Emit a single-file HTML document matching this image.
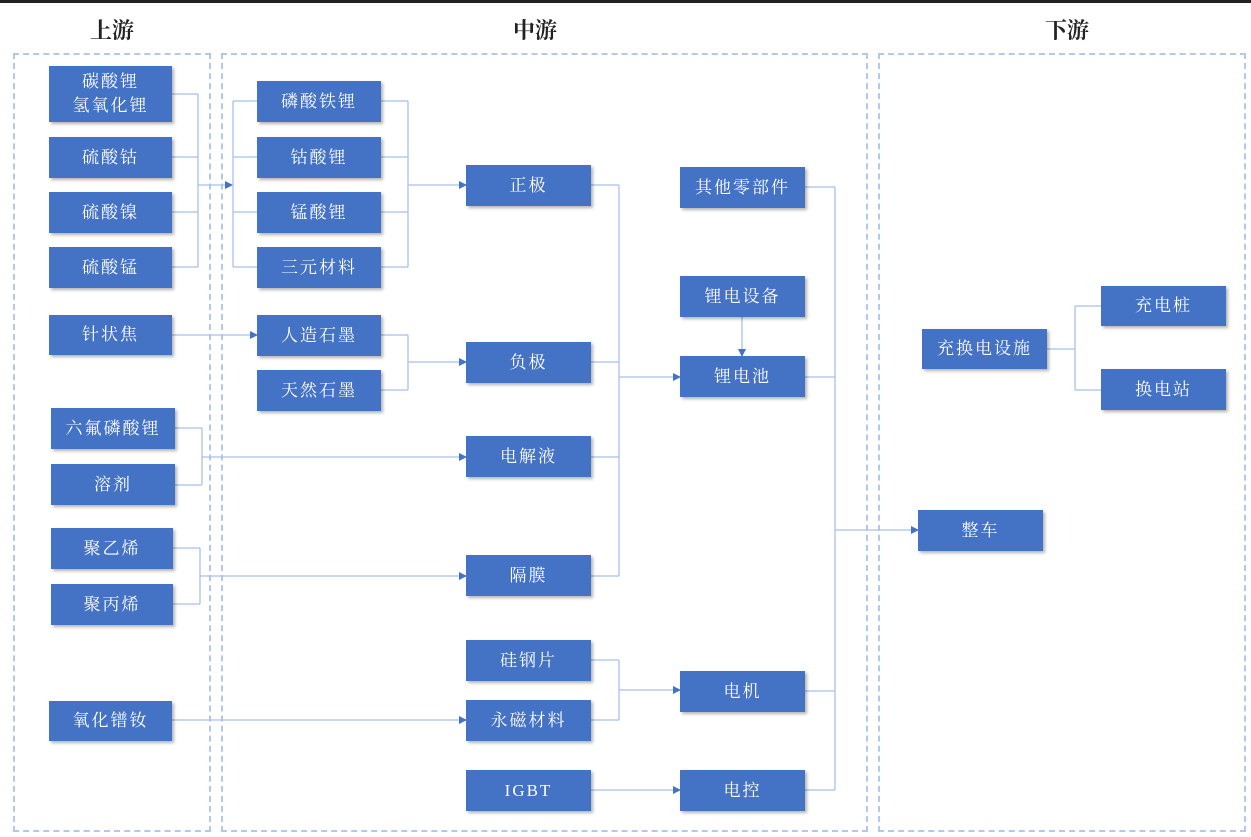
<!DOCTYPE html>
<html><head><meta charset="utf-8"><style>
body{margin:0;width:1251px;height:837px;background:#fff;position:relative;overflow:hidden;font-family:"Liberation Serif","Noto Serif CJK SC",serif}
.b{position:absolute;background:#4472C4;color:#fff;display:flex;align-items:center;justify-content:center;text-align:center;font-size:17px;line-height:24px;letter-spacing:2px;box-shadow:2px 2px 3px rgba(0,0,0,.3)}
.h{position:absolute;top:14px;font-size:22px;font-weight:bold;color:#222;width:100px;text-align:center}
.p{position:absolute;border:2px dashed #b4c7ec;box-sizing:border-box}
</style></head><body>
<div style="position:absolute;left:0;top:0;width:1251px;height:3px;background:#222"></div>
<div class="h" style="left:62px">上游</div>
<div class="h" style="left:485px">中游</div>
<div class="h" style="left:1017px">下游</div>
<div class="p" style="left:13px;top:53px;width:198px;height:779px"></div>
<div class="p" style="left:221px;top:53px;width:647px;height:779px"></div>
<div class="p" style="left:878px;top:53px;width:368px;height:779px"></div>
<svg width="1251" height="837" style="position:absolute;left:0;top:0">
<defs><marker id="a" markerWidth="8" markerHeight="8" refX="7" refY="4" orient="auto" markerUnits="userSpaceOnUse"><path d="M0,0L8,4L0,8z" fill="#4472C4"/></marker></defs>
<g stroke="#a9c0ea" stroke-width="1.3" fill="none">
<path d="M172,94H198M172,157H198M172,212H198M172,267H198M198,94V267"/>
<path d="M198,185H232" marker-end="url(#a)"/>
<path d="M233,101V267M233,101H257M233,157H257M233,212H257M233,267H257"/>
<path d="M381,101H408M381,157H408M381,212H408M381,267H408M408,101V267"/>
<path d="M408,185H466" marker-end="url(#a)"/>
<path d="M172,335H257" marker-end="url(#a)"/>
<path d="M381,335H408M381,390H408M408,335V390"/>
<path d="M408,362H466" marker-end="url(#a)"/>
<path d="M175,428H202M175,485H202M202,428V485"/>
<path d="M202,457H466" marker-end="url(#a)"/>
<path d="M173,548H200M173,604H200M200,548V604"/>
<path d="M200,576H466" marker-end="url(#a)"/>
<path d="M591,185H619M591,362H619M591,457H619M591,576H619M619,185V576"/>
<path d="M619,377H680" marker-end="url(#a)"/>
<path d="M742,317V356" marker-end="url(#a)"/>
<path d="M591,660H619M591,720H619M619,660V720"/>
<path d="M619,690H680" marker-end="url(#a)"/>
<path d="M172,720H466" marker-end="url(#a)"/>
<path d="M591,790H680" marker-end="url(#a)"/>
<path d="M805,187H835M805,377H835M805,691H835M805,790H835M835,187V790"/>
<path d="M835,530H918" marker-end="url(#a)"/>
<path d="M1047,349H1075M1075,306V390M1075,306H1101M1075,390H1101"/>
</g></svg>
<div class="b" style="left:49px;top:66px;width:123px;height:56px">碳酸锂<br>氢氧化锂</div>
<div class="b" style="left:49px;top:137px;width:123px;height:41px">硫酸钴</div>
<div class="b" style="left:49px;top:192px;width:123px;height:41px">硫酸镍</div>
<div class="b" style="left:49px;top:247px;width:123px;height:41px">硫酸锰</div>
<div class="b" style="left:257px;top:81px;width:124px;height:41px">磷酸铁锂</div>
<div class="b" style="left:257px;top:137px;width:124px;height:41px">钴酸锂</div>
<div class="b" style="left:257px;top:192px;width:124px;height:41px">锰酸锂</div>
<div class="b" style="left:257px;top:247px;width:124px;height:41px">三元材料</div>
<div class="b" style="left:466px;top:165px;width:125px;height:41px">正极</div>
<div class="b" style="left:466px;top:342px;width:125px;height:41px">负极</div>
<div class="b" style="left:466px;top:436px;width:125px;height:41px">电解液</div>
<div class="b" style="left:466px;top:555px;width:125px;height:41px">隔膜</div>
<div class="b" style="left:49px;top:315px;width:123px;height:40px">针状焦</div>
<div class="b" style="left:257px;top:315px;width:124px;height:41px">人造石墨</div>
<div class="b" style="left:257px;top:370px;width:124px;height:41px">天然石墨</div>
<div class="b" style="left:51px;top:408px;width:124px;height:41px">六氟磷酸锂</div>
<div class="b" style="left:51px;top:464px;width:124px;height:41px">溶剂</div>
<div class="b" style="left:51px;top:528px;width:122px;height:41px">聚乙烯</div>
<div class="b" style="left:51px;top:584px;width:122px;height:41px">聚丙烯</div>
<div class="b" style="left:680px;top:167px;width:125px;height:41px">其他零部件</div>
<div class="b" style="left:680px;top:276px;width:125px;height:41px">锂电设备</div>
<div class="b" style="left:680px;top:356px;width:125px;height:41px">锂电池</div>
<div class="b" style="left:466px;top:640px;width:125px;height:41px">硅钢片</div>
<div class="b" style="left:466px;top:700px;width:125px;height:41px">永磁材料</div>
<div class="b" style="left:680px;top:671px;width:125px;height:41px">电机</div>
<div class="b" style="left:49px;top:701px;width:123px;height:40px">氧化镨钕</div>
<div class="b" style="left:466px;top:770px;width:125px;height:41px">IGBT</div>
<div class="b" style="left:680px;top:770px;width:125px;height:41px">电控</div>
<div class="b" style="left:918px;top:510px;width:125px;height:41px">整车</div>
<div class="b" style="left:922px;top:329px;width:125px;height:40px">充换电设施</div>
<div class="b" style="left:1101px;top:286px;width:125px;height:40px">充电桩</div>
<div class="b" style="left:1101px;top:369px;width:125px;height:41px">换电站</div>
</body></html>
